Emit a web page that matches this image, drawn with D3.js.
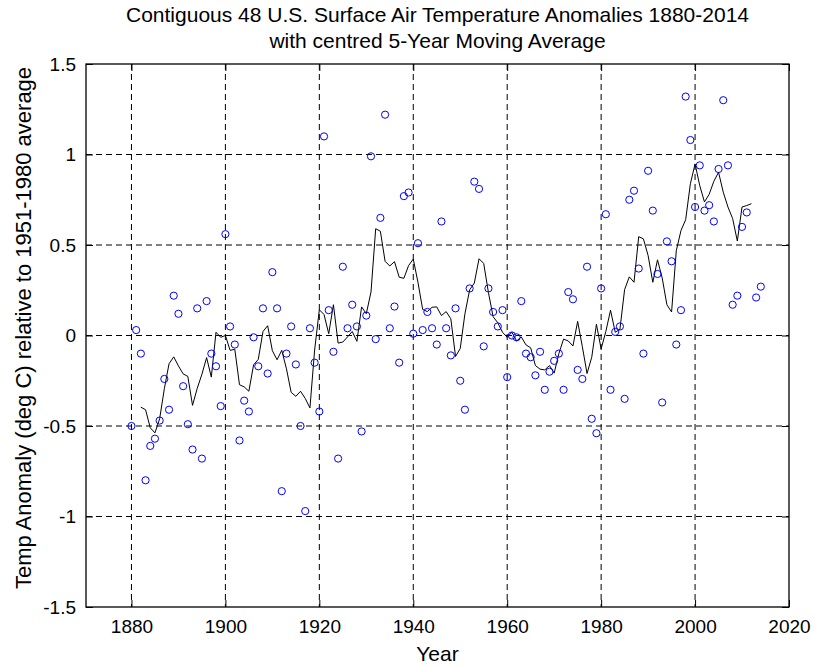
<!DOCTYPE html>
<html>
<head>
<meta charset="utf-8">
<script src="https://cdn.jsdelivr.net/npm/d3@7"></script>
<style>
body { margin: 0; background: #fff; }
text { font-family: "Liberation Sans", Arial, sans-serif; fill: #000; }
</style>
</head>
<body>
<svg id="chart" width="815" height="668"></svg>
<script>
var firstYear = 1880;
var anomaly = [
  -0.50, 0.03, -0.10, -0.80, -0.61, -0.57, -0.47, -0.24, -0.41, 0.22,   // 1880s
   0.12, -0.28, -0.49, -0.63, 0.15, -0.68, 0.19, -0.10, -0.17, -0.39,   // 1890s
   0.56, 0.05, -0.05, -0.58, -0.36, -0.42, -0.01, -0.17, 0.15, -0.21,   // 1900s
   0.35, 0.15, -0.86, -0.10, 0.05, -0.16, -0.50, -0.97, 0.04, -0.15,    // 1910s
  -0.42, 1.10, 0.14, -0.09, -0.68, 0.38, 0.04, 0.17, 0.05, -0.53,       // 1920s
   0.11, 0.99, -0.02, 0.65, 1.22, 0.04, 0.16, -0.15, 0.77, 0.79,        // 1930s
   0.01, 0.51, 0.03, 0.13, 0.04, -0.05, 0.63, 0.04, -0.11, 0.15,        // 1940s
  -0.25, -0.41, 0.26, 0.85, 0.81, -0.06, 0.26, 0.13, 0.05, 0.14,        // 1950s
  -0.23, 0.00, -0.01, 0.19, -0.10, -0.12, -0.22, -0.09, -0.30, -0.20,   // 1960s
  -0.14, -0.10, -0.30, 0.24, 0.20, -0.19, -0.24, 0.38, -0.46, -0.54,    // 1970s
   0.26, 0.67, -0.30, 0.02, 0.05, -0.35, 0.75, 0.80, 0.37, -0.10,       // 1980s
   0.91, 0.69, 0.34, -0.37, 0.52, 0.41, -0.05, 0.14, 1.32, 1.08,        // 1990s
   0.71, 0.94, 0.69, 0.72, 0.63, 0.92, 1.30, 0.94, 0.17, 0.22,          // 2000s
   0.60, 0.68, 1.88, 0.21, 0.27                                         // 2010s
];
var xTicks = [1880, 1900, 1920, 1940, 1960, 1980, 2000, 2020];
var yTicks = [-1.5, -1, -0.5, 0, 0.5, 1, 1.5];
var yTickLabels = ["-1.5", "-1", "-0.5", "0", "0.5", "1", "1.5"];

var points = anomaly.map(function (v, i) { return { year: firstYear + i, value: v }; });

// centred 5-year moving average
var smooth = [];
for (var i = 2; i < points.length - 2; i++) {
    var s = 0;
    for (var k = -2; k <= 2; k++) { s += points[i + k].value; }
    smooth.push({ year: points[i].year, value: s / 5 });
}

var svg = d3.select("#chart");
var pLeft = 86, pRight = 789, pTop = 64, pBottom = 607;

var x = d3.scaleLinear().domain([1870, 2020]).range([84.5, pRight]);
var y = d3.scaleLinear().domain([-1.5, 1.5]).range([pBottom, pTop]);

svg.append("defs").append("clipPath").attr("id", "plotclip")
    .append("rect")
    .attr("x", pLeft).attr("y", pTop)
    .attr("width", pRight - pLeft).attr("height", pBottom - pTop);

// grid
svg.append("g").selectAll("line").data(xTicks.slice(0, -1)).enter()
    .append("line")
    .attr("x1", function (d) { return x(d); })
    .attr("x2", function (d) { return x(d); })
    .attr("y1", pTop).attr("y2", pBottom)
    .attr("stroke", "#000").attr("stroke-width", 1)
    .attr("stroke-dasharray", "6,4");

svg.append("g").selectAll("line").data(yTicks.slice(1, -1)).enter()
    .append("line")
    .attr("x1", pLeft).attr("x2", pRight)
    .attr("y1", function (d) { return y(d); })
    .attr("y2", function (d) { return y(d); })
    .attr("stroke", "#000").attr("stroke-width", 1)
    .attr("stroke-dasharray", "6,4");

// axes (MATLAB style: inward ticks, box)
var tickLen = 7;
svg.append("g").attr("class", "axis")
    .attr("transform", "translate(0," + pBottom + ")")
    .call(d3.axisBottom(x).tickValues(xTicks).tickSizeInner(-tickLen).tickSizeOuter(0).tickPadding(tickLen + 6).tickFormat(d3.format("d")));
svg.append("g").attr("class", "axis")
    .attr("transform", "translate(0," + pTop + ")")
    .call(d3.axisTop(x).tickValues(xTicks).tickSizeInner(-tickLen).tickSizeOuter(0).tickFormat(""));
svg.append("g").attr("class", "axis")
    .attr("transform", "translate(" + pLeft + ",0)")
    .call(d3.axisLeft(y).tickValues(yTicks).tickSizeInner(-tickLen).tickSizeOuter(0).tickPadding(tickLen + 3)
        .tickFormat(function (d, i) { return yTickLabels[i]; }));
svg.append("g").attr("class", "axis")
    .attr("transform", "translate(" + pRight + ",0)")
    .call(d3.axisRight(y).tickValues(yTicks).tickSizeInner(-tickLen).tickSizeOuter(0).tickFormat(""));

svg.selectAll(".axis .domain").remove();
svg.selectAll(".axis line").attr("stroke", "#000");
svg.selectAll(".axis text").style("font-size", "19px").attr("fill", "#000");

svg.append("rect")
    .attr("x", pLeft).attr("y", pTop)
    .attr("width", pRight - pLeft).attr("height", pBottom - pTop)
    .attr("fill", "none").attr("stroke", "#000").attr("stroke-width", 1.3);

var plot = svg.append("g").attr("clip-path", "url(#plotclip)");

plot.append("path")
    .datum(smooth)
    .attr("fill", "none")
    .attr("stroke", "#000")
    .attr("stroke-width", 1)
    .attr("d", d3.line().x(function (d) { return x(d.year); }).y(function (d) { return y(d.value); }));

plot.selectAll("circle").data(points).enter()
    .append("circle")
    .attr("cx", function (d) { return x(d.year); })
    .attr("cy", function (d) { return y(d.value); })
    .attr("r", 3.6)
    .attr("fill", "none")
    .attr("stroke", "#0000ff")
    .attr("stroke-width", 1);

// titles and labels
svg.append("text")
    .attr("x", (pLeft + pRight) / 2).attr("y", 22)
    .attr("text-anchor", "middle").style("font-size", "21px")
    .text("Contiguous 48 U.S. Surface Air Temperature Anomalies 1880-2014");
svg.append("text")
    .attr("x", (pLeft + pRight) / 2).attr("y", 48)
    .attr("text-anchor", "middle").style("font-size", "21px")
    .text("with centred 5-Year Moving Average");

svg.append("text")
    .attr("x", (pLeft + pRight) / 2).attr("y", 661)
    .attr("text-anchor", "middle").style("font-size", "21px")
    .text("Year");

svg.append("text")
    .attr("transform", "translate(31,328) rotate(-90)")
    .attr("text-anchor", "middle").style("font-size", "22px")
    .text("Temp Anomaly (deg C) relative to 1951-1980 average");
</script>
</body>
</html>
